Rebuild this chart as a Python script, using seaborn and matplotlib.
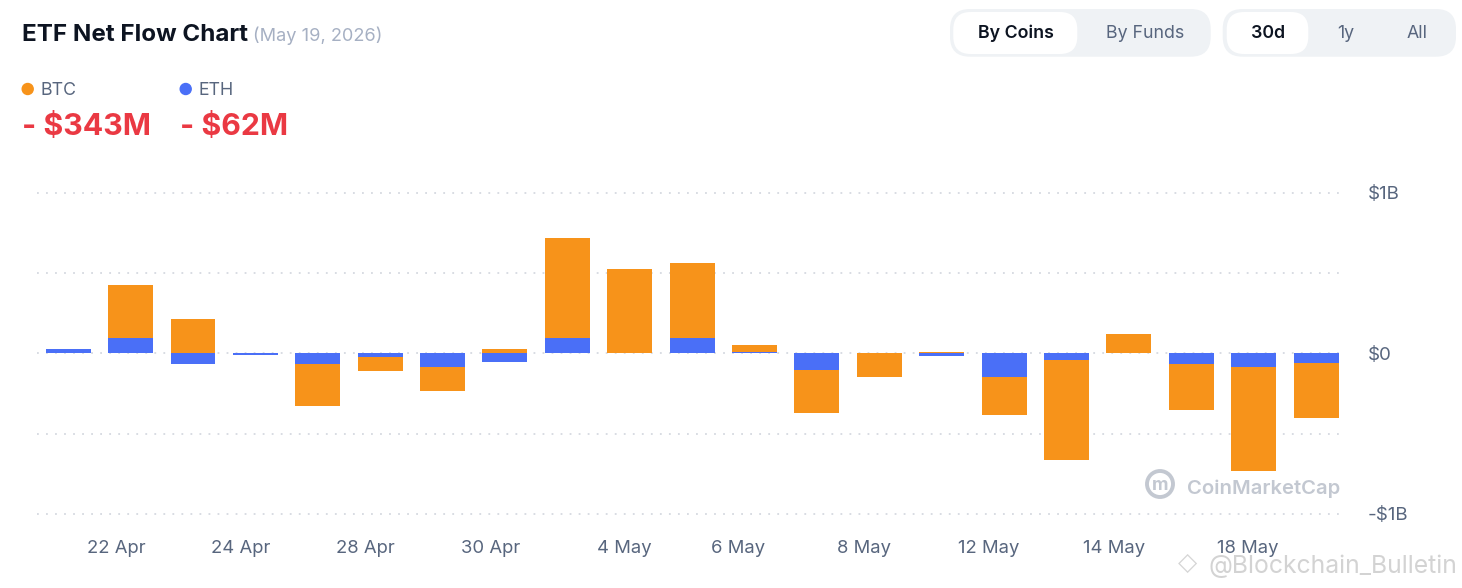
import matplotlib
matplotlib.use("Agg")
import numpy as np
import pandas as pd
import seaborn as sns
import matplotlib.pyplot as plt
import matplotlib.transforms as mtransforms
from matplotlib.patches import FancyBboxPatch, Ellipse

# Daily ETF net flow, in $M (trading days only)
dates = ["21 Apr", "22 Apr", "23 Apr", "24 Apr", "27 Apr", "28 Apr", "29 Apr",
         "30 Apr", "1 May", "4 May", "5 May", "6 May", "7 May", "8 May",
         "11 May", "12 May", "13 May", "14 May", "15 May", "18 May", "19 May"]
btc_flow = [0, 330, 215, 0, -260, -92, -152, 27, 627, 523, 467, 45, -271, -150,
            8, -240, -627, 118, -287, -646, -343]
eth_flow = [29, 94, -66, -10, -66, -20, -83, -56, 94, 0, 94, 8, -104, 0,
            -19, -145, -40, 0, -68, -87, -62]
y_ticks = [-1, -0.5, 0, 0.5, 1]
y_labels = ["-$1B", "", "$0", "", "$1B"]

ORANGE = "#f7931a"
BLUE = "#4a6ff7"
GREY_TXT = "#58667e"

sns.set_theme(style="white")
plt.rcParams["font.family"] = ["Inter", "DejaVu Sans"]

W, H = 1462, 588
fig = plt.figure(figsize=(W / 100, H / 100), dpi=100)


def fx(px):
    return px / W


def fy(py):
    return 1 - py / H


def dot(x, y, r, **kw):
    fig.add_artist(Ellipse((fx(x), fy(y)), 2 * r / W, 2 * r / H,
                           transform=fig.transFigure, **kw))


ax = fig.add_axes([fx(37), fy(521.8), fx(1341) - fx(37), fy(184.8) - fy(521.8)])

df = pd.DataFrame({"date": dates, "btc": btc_flow, "eth": eth_flow})
same_sign = (df["btc"] * df["eth"]) > 0
# BTC sits on top of ETH when both go the same way
df["btc_stack"] = np.where(same_sign, df["btc"] + df["eth"], df["btc"]) / 1000
df["eth_stack"] = df["eth"] / 1000

sns.barplot(data=df, x="date", y="btc_stack", color=ORANGE, saturation=1,
            width=0.72, linewidth=0, ax=ax)
sns.barplot(data=df, x="date", y="eth_stack", color=BLUE, saturation=1,
            width=0.72, linewidth=0, ax=ax)

ax.set_xlim(-0.5, 20.4)
ax.set_ylim(-1.05, 1.05)
ax.set_xlabel("")
ax.set_ylabel("")
for s in ax.spines.values():
    s.set_visible(False)

ax.set_axisbelow(True)
ax.set_yticks(y_ticks)
ax.set_yticklabels(y_labels)
ax.yaxis.tick_right()
ax.grid(axis="y", color="#d5d9e0", linestyle=(0, (1, 4)), linewidth=1.3)
ax.grid(axis="x", visible=False)
ax.tick_params(axis="y", length=0, pad=19.5, labelsize=13.5, labelcolor=GREY_TXT)

ax.set_xticks(range(1, len(dates), 2))
ax.set_xticklabels(dates[1::2])
ax.tick_params(axis="x", length=0, pad=13, labelsize=13.3, labelcolor=GREY_TXT)
# the labels sit a little left of their bars, as in the source
label_shift_px = [-14, -15, -15, -14, -5, -16, -15, -15, -15, -6]
for lbl, dx in zip(ax.get_xticklabels(), label_shift_px):
    shift = mtransforms.ScaledTranslation(dx / 100, 0, fig.dpi_scale_trans)
    lbl.set_transform(lbl.get_transform() + shift)

# header
fig.text(fx(22), fy(41), "ETF Net Flow Chart", fontsize=17.4, fontweight="bold",
         color="#0d1421", va="baseline")
fig.text(fx(253), fy(41), "(May 19, 2026)", fontsize=13.1, color="#a6b0c3",
         va="baseline")

dot(27.7, 89, 5.5, color=ORANGE)
dot(185.7, 89, 5.5, color=BLUE)
fig.text(fx(40.5), fy(95), "BTC", fontsize=12.8, color=GREY_TXT, va="baseline")
fig.text(fx(199), fy(95), "ETH", fontsize=12.8, color=GREY_TXT, va="baseline")
fig.text(fx(22), fy(135), "- $343M", fontsize=21.8, fontweight="bold",
         color="#ea3943", va="baseline")
fig.text(fx(180.5), fy(135), "- $62M", fontsize=21.8, fontweight="bold",
         color="#ea3943", va="baseline")


def box(x0, y0, x1, y1, fc, r=8):
    p = FancyBboxPatch((fx(x0), fy(y1)), fx(x1) - fx(x0), fy(y0) - fy(y1),
                       boxstyle="round,pad=0,rounding_size=%f" % (r / H),
                       transform=fig.transFigure, facecolor=fc, edgecolor="none",
                       mutation_aspect=W / H)
    fig.add_artist(p)


box(950, 9, 1210.7, 56.7, "#eff2f5")
box(953.3, 12, 1077.3, 54, "white", r=7)
box(1222.7, 9, 1456, 56.7, "#eff2f5")
box(1226.7, 12, 1308.3, 54, "white", r=7)

for x, t, sel in [(1015.5, "By Coins", True), (1144.7, "By Funds", False),
                  (1268.3, "30d", True), (1345.8, "1y", False), (1417.5, "All", False)]:
    fig.text(fx(x), fy(33), t, fontsize=12.8, ha="center", va="center",
             fontweight="semibold" if sel else "normal",
             color="#0d1421" if sel else GREY_TXT)

# watermarks
dot(1160, 484, 13, fill=False, edgecolor="#c3c8d1", linewidth=2.8)
fig.text(fx(1160), fy(486), "m", fontsize=13, fontweight="bold", color="#c3c8d1",
         ha="center", va="center")
fig.text(fx(1187), fy(494), "CoinMarketCap", fontsize=14.6, fontweight="semibold",
         color="#c3c8d1", va="baseline")
fig.text(fx(1188), fy(563), "\u25c7", fontsize=18, color="#d6d6d6",
         ha="center", va="center", family="DejaVu Sans")
fig.text(fx(1208), fy(573), "@Blockchain_Bulletin", fontsize=17.8,
         color="#d3d3d3", va="baseline")

fig.savefig("out.png", dpi=100, facecolor="white")
